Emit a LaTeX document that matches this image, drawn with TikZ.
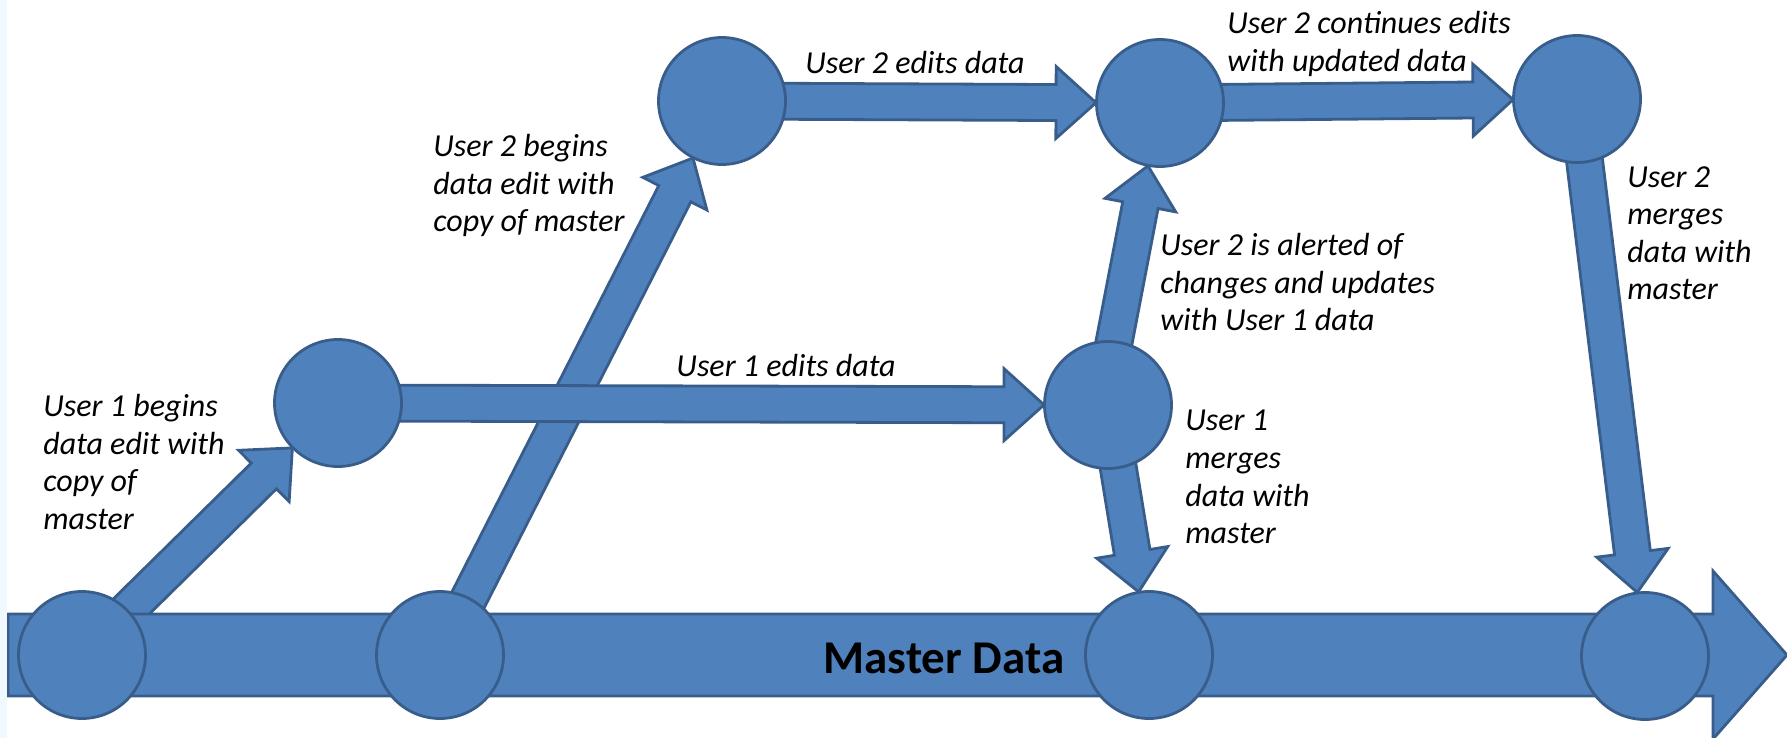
\documentclass[tikz,border=0pt]{standalone}
\usepackage{fontspec}
\setmainfont{Carlito}
\usetikzlibrary{calc}
\definecolor{nodefill}{HTML}{4F81BD}
\definecolor{nodeline}{HTML}{385D8A}
\definecolor{edgestrip}{HTML}{F0FAFE}
\pgfdeclarelayer{bg}
\pgfsetlayers{bg,main}
% #1 start, #2 tip, #3 shaft half width, #4 head half width, #5 head length
\newcommand{\blockarr}[5]{%
  \path ($(#2)!#5!(#1)$) coordinate (ba-h);
  \filldraw[arrowbody] ($(#1)!#3!90:(#2)$) -- ($(ba-h)!#3!90:(#2)$) -- ($(ba-h)!#4!90:(#2)$) -- (#2)
    -- ($(ba-h)!#4!-90:(#2)$) -- ($(ba-h)!#3!-90:(#2)$) -- ($(#1)!#3!-90:(#2)$) -- cycle;
}
\tikzset{
  stage/.style={circle, fill=nodefill, draw=nodeline, line width=1.4pt, minimum size=63.5pt, inner sep=0pt},
  arrowbody/.style={fill=nodefill, draw=nodeline, line width=1.4pt, line join=miter},
  lbl/.style={font=\itshape\fontsize{16}{18.8}\selectfont, align=left, inner sep=0pt, anchor=north west, text=black},
  master/.style={font=\bfseries\fontsize{23.5}{27}\selectfont, inner sep=0pt, text=black}
}
\begin{document}
\begin{tikzpicture}[x=0.5pt, y=-0.5pt]
\useasboundingbox (0,0) rectangle (1787,738);
\fill[edgestrip] (0,0) rectangle (7,738);

% stages
\node[stage] (M1) at (82,655) {};
\node[stage] (M2) at (440,655) {};
\node[stage] (M3) at (1149,655) {};
\node[stage] (M4) at (1645,656) {};
\node[stage] (U1a) at (338,403) {};
\node[stage] (U1b) at (1108,405) {};
\node[stage] (U2a) at (722,101) {};
\node[stage] (U2b) at (1160,103) {};
\node[stage] (U2c) at (1577,99) {};

\coordinate (mstart) at (8,655);
\coordinate (mtip) at (1787,655);

% tips on the target borders
\coordinate (t1) at ($(U1a.center)!32pt!(M1.center)$);
\coordinate (t2) at ($(U2a.center)!32pt!(M2.center)$);
\coordinate (t3) at ($(U1b.center)!32pt!(U1a.center)$);
\coordinate (t4) at ($(U2b.center)!32pt!(U2a.center)$);
\coordinate (t5) at ($(U2c.center)!32pt!(U2b.center)$);
\coordinate (s6) at ($(U1b.center)+(-6,0)$);
\coordinate (t6) at ($(U2b.center)!32pt!(s6)$);
\coordinate (t7) at ($(M3.center)!32pt!(U1b.center)$);
\coordinate (t8) at ($(M4.center)!32pt!(U2c.center)$);

\begin{pgfonlayer}{bg}
  \blockarr{M1.center}{t1}{9pt}{18pt}{20pt}
  \blockarr{M2.center}{t2}{9pt}{18pt}{20pt}
  \blockarr{mstart}{mtip}{20.5pt}{42pt}{37pt}
  \blockarr{U1a.center}{t3}{9pt}{18pt}{20pt}
  \blockarr{U2a.center}{t4}{9pt}{18pt}{20pt}
  \blockarr{U2b.center}{t5}{9pt}{18pt}{20pt}
  \blockarr{s6}{t6}{9pt}{18pt}{20pt}
  \blockarr{U1b.center}{t7}{9pt}{18pt}{20pt}
  \blockarr{U2c.center}{t8}{9pt}{18pt}{20pt}
\end{pgfonlayer}

% labels
\node[lbl] (l1) at (43,394) {User 1 begins\\data edit with\\copy of\\master};
\node[lbl] (l2) at (433,134) {User 2 begins\\data edit with\\copy of master};
\node[lbl] (l3) at (805,51) {User 2 edits data};
\node[lbl] (l4) at (1227,11) {User 2 continues edits\\with updated data};
\node[lbl] (l5) at (1627,166) {User 2\\merges\\data with\\master};
\node[lbl] (l6) at (1160,233) {User 2 is alerted of\\changes and updates\\with User 1 data};
\node[lbl, anchor=north] (l7) at (786,354) {User 1 edits data};
\node[lbl] (l8) at (1185,410) {User 1\\merges\\data with\\master};
\node[master] (md) at (944,658) {Master Data};
\end{tikzpicture}
\end{document}
